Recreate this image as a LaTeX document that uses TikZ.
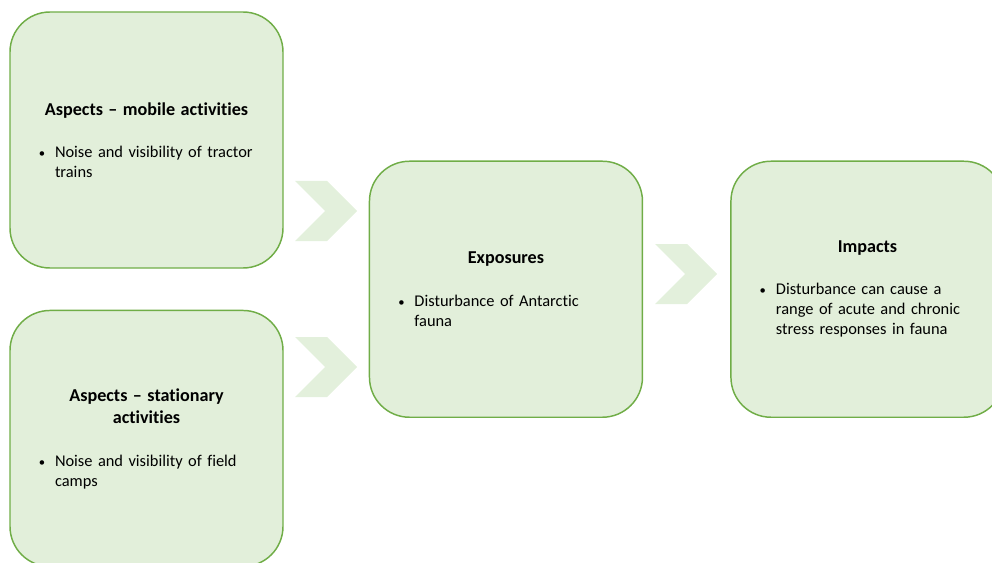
\documentclass[tikz,border=0pt]{standalone}
\usepackage{fontspec}
\setmainfont{Carlito}[Ligatures={TeX,NoCommon}]
\usetikzlibrary{calc,positioning}
\definecolor{LeafGreen}{RGB}{112,173,71}
\definecolor{PaleGreen}{RGB}{226,239,218}
\definecolor{ChevGreen}{RGB}{227,240,220}
\newcommand{\boxhead}[1]{{\centering\fontsize{13.6}{17}\selectfont\bfseries #1\par}\vskip 16.75pt}
\newcommand{\boxitem}[1]{{\raggedright\hangindent=12.75pt\hangafter=1\noindent
  \makebox[12.75pt][l]{\hspace{0.6pt}\fontsize{9.5}{9.5}\selectfont\textbullet}#1\par}}

\begin{document}
\begin{tikzpicture}[
    x=0.75pt,y=-0.75pt,node distance=30.75pt,
    stage/.style={
      draw=LeafGreen,fill=PaleGreen,line width=1.1pt,rounded corners=30pt,
      minimum width=204.75pt,minimum height=192pt,inner sep=0pt,
      text width=162.75pt,font=\fontsize{12.3}{15}\selectfont
    },
    chevron/.pic={
      \fill[ChevGreen] (-31,-30) -- (1,-30) -- (31,0) -- (1,30) -- (-31,30) -- (-1,0) -- cycle;
    }]
    \useasboundingbox (0,0) rectangle (992,563);
    \clip (0,0) rectangle (992,563);
    \node[stage] (mobile) at (146.5,140)
      {\boxhead{Aspects -- mobile activities}\boxitem{Noise and visibility of tractor\newline trains}};
    \node[stage,below=of mobile] (stationary)
      {\boxhead{Aspects -- stationary\\activities}\boxitem{Noise and visibility of field\newline camps}};
    \coordinate (aspects) at ($(mobile.east)!0.5!(stationary.east)$);
    \node[stage,right=63.75pt of aspects] (exposure)
      {\boxhead{Exposures}\boxitem{Disturbance of Antarctic\newline fauna}};
    \node[stage,right=65.25pt of exposure] (impact)
      {\boxhead{Impacts}\boxitem{Disturbance can cause a\newline range of acute and chronic\newline stress responses in fauna}};
    \pic at (326,211) {chevron};
    \pic at (326,367) {chevron};
    \pic at (686,274) {chevron};
  \end{tikzpicture}
\end{document}
